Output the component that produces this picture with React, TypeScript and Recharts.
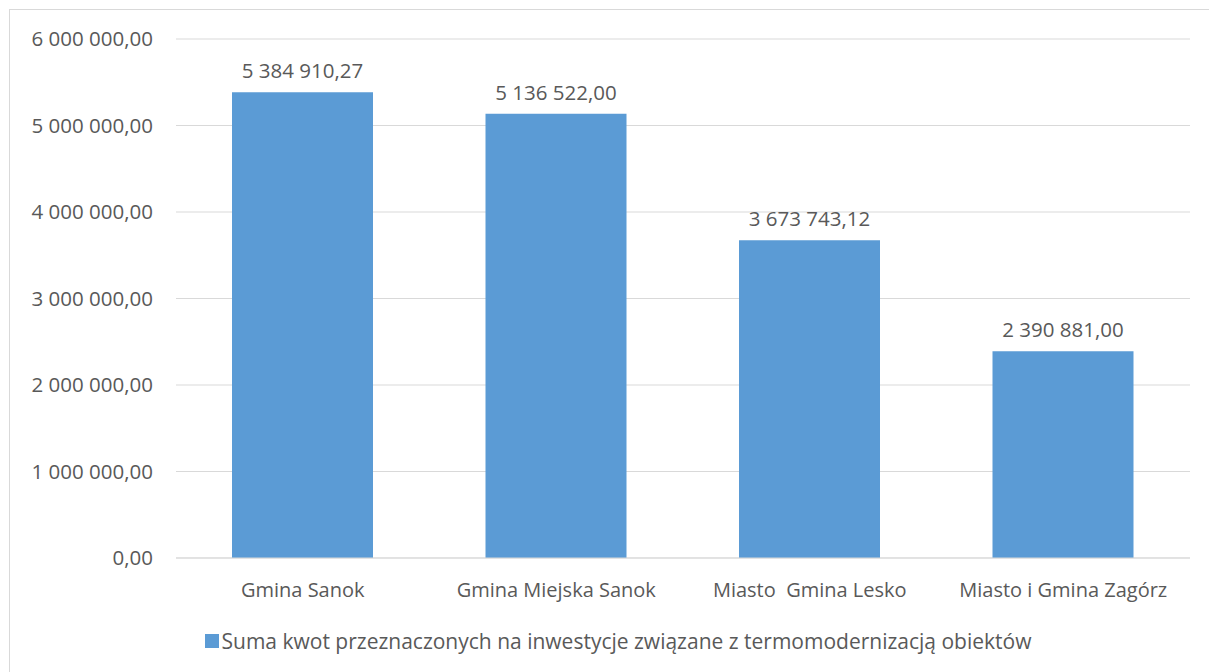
import React from 'react';
import { BarChart, Bar, XAxis, YAxis, CartesianGrid, Legend, LabelList } from 'recharts';

const categories = ['Gmina Sanok', 'Gmina Miejska Sanok', 'Miasto\u00a0 Gmina Lesko', 'Miasto i Gmina Zagórz'];
const amounts = [5384910.27, 5136522.0, 3673743.12, 2390881.0];
const yTicks = [0, 1000000, 2000000, 3000000, 4000000, 5000000, 6000000];
const seriesName = 'Suma kwot przeznaczonych na inwestycje związane z termomodernizacją obiektów';

const BLUE = '#5B9BD5';
const TEXT = '#595959';
const GRID = '#D9D9D9';
const FONT = '"Open Sans", sans-serif';

// polski format: spacje jako separator tysięcy, przecinek dziesiętny
const fmt = (v: number) => {
  const [i, d] = Number(v).toFixed(2).split('.');
  return i.replace(/\B(?=(\d{3})+(?!\d))/g, ' ') + ',' + d;
};

const data = categories.map((name, i) => ({ name, value: amounts[i] }));

const LegendContent = () => (
  <div
    style={{
      height: 30,
      display: 'flex',
      alignItems: 'center',
      justifyContent: 'center',
      paddingLeft: 17,
      fontFamily: FONT,
      fontSize: 21,
      color: TEXT,
    }}
  >
    <span style={{ width: 14, height: 14, background: BLUE, marginRight: 3, display: 'inline-block' }} />
    <span>{seriesName}</span>
  </div>
);

export default function App() {
  return (
    <div
      style={{
        margin: '9px 0 0 9px',
        borderTop: `1px solid ${GRID}`,
        borderLeft: `1px solid ${GRID}`,
        width: 1199,
        height: 662,
        background: '#fff',
        fontFamily: FONT,
      }}
    >
      <style>{'html, body { margin: 0; overflow: hidden; }'}</style>
      <BarChart
        width={1199}
        height={662}
        data={data}
        margin={{ top: 29, right: 19, left: 0, bottom: 16 }}
      >
        <CartesianGrid vertical={false} stroke={GRID} strokeWidth={1} />
        <XAxis
          dataKey="name"
          height={68}
          tickSize={0}
          tickMargin={25}
          axisLine={{ stroke: GRID }}
          tickLine={false}
          tick={{ fill: TEXT, fontSize: 20, fontFamily: FONT }}
          interval={0}
        />
        <YAxis
          width={166}
          domain={[0, 6000000]}
          ticks={yTicks}
          tickFormatter={fmt}
          tickSize={0}
          tickMargin={23}
          axisLine={false}
          tickLine={false}
          tick={{ fill: TEXT, fontSize: 20.5, fontFamily: FONT }}
        />
        <Legend verticalAlign="bottom" height={30} wrapperStyle={{ left: 0, width: 1199 }} content={LegendContent} />
        <Bar dataKey="value" name={seriesName} fill={BLUE} barSize={141} isAnimationActive={false}>
          <LabelList
            dataKey="value"
            position="top"
            offset={14}
            formatter={(v: any) => fmt(v)}
            style={{ fill: TEXT, fontSize: 20.5, fontFamily: FONT }}
          />
        </Bar>
      </BarChart>
    </div>
  );
}
